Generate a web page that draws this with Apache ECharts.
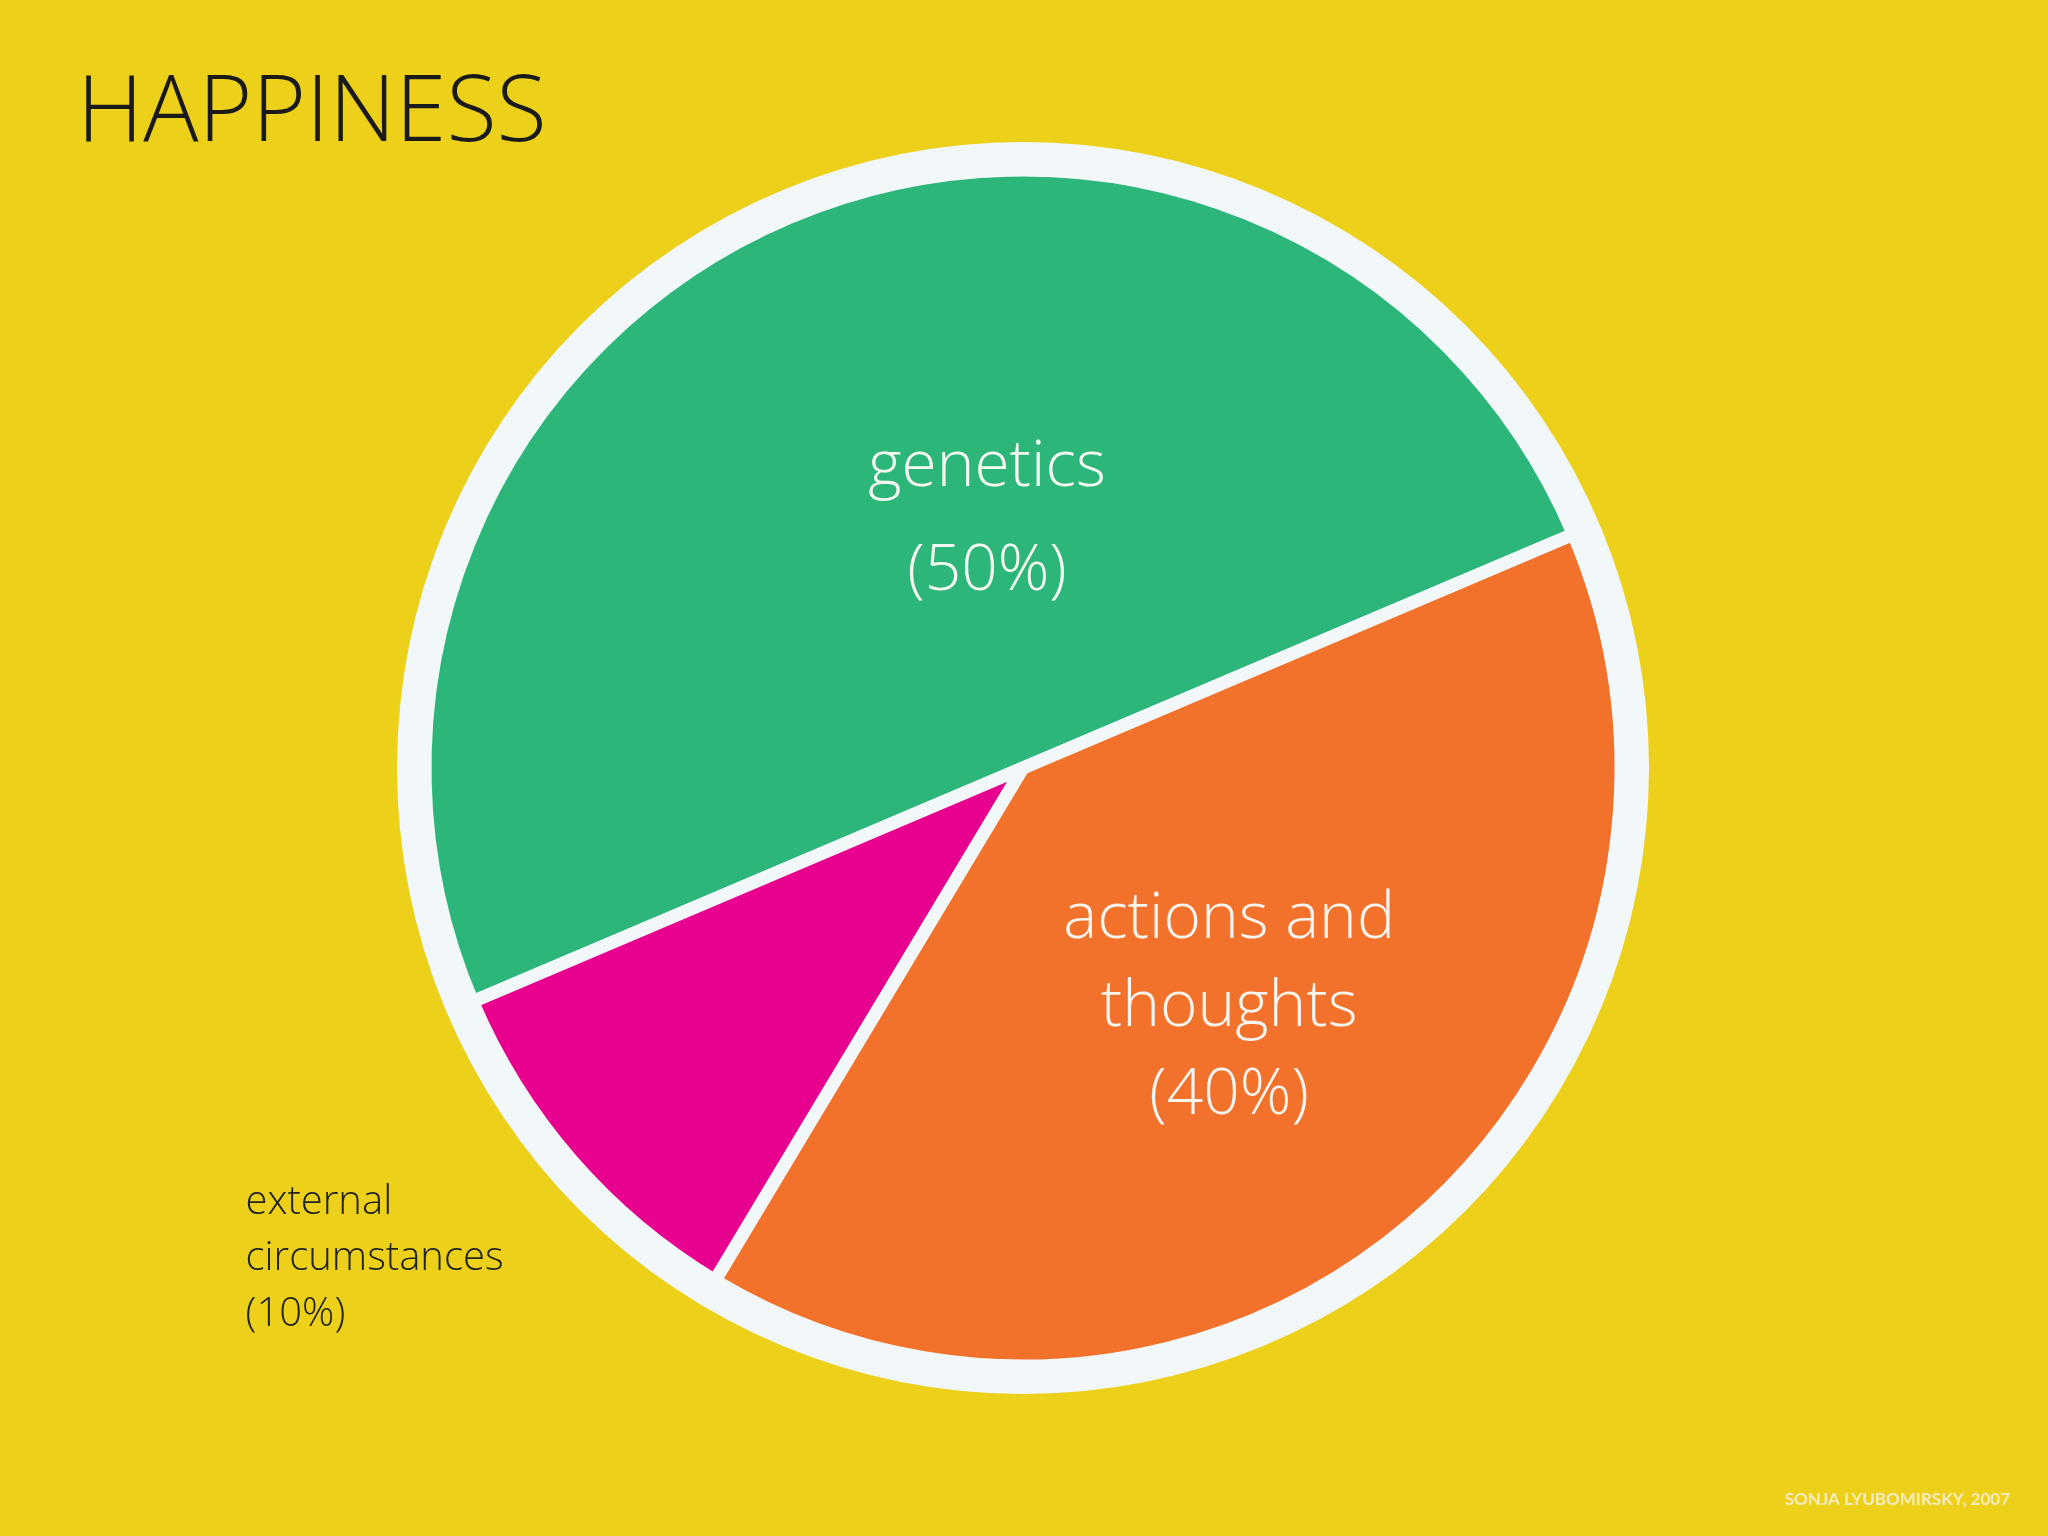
<!DOCTYPE html>
<html>
<head>
<meta charset="utf-8">
<script src="https://cdn.jsdelivr.net/npm/echarts@6/dist/echarts.min.js"></script>
<style>
  html, body { margin: 0; padding: 0; background: #ecd01a; }
  #chart { width: 2048px; height: 1536px; }
</style>
</head>
<body>
<div id="chart"></div>
<script>
// slices, counter-clockwise from the green/orange boundary
const names = ['genetics', 'external\ncircumstances', 'actions and\nthoughts'];
const values = [50, 10, 40];
const colors = ['#2db67a', '#e8008f', '#f2722c'];

const chart = echarts.init(document.getElementById('chart'));

//每块标签样式
const labelStyles = [
  {offset: [82, 30], fontSize: 64, color: '#f4f8f0', lineHeight: 104, letterSpacing: 7},
  {offset: [-377, 292], fontSize: 40, color: '#222', lineHeight: 56, letterSpacing: 3, width: 345},
  {offset: [8, 12], fontSize: 64, color: '#f8f4ee', lineHeight: 88, letterSpacing: 7}
];

const option = {
  backgroundColor: '#ecd01a',
  title: {
    text: 'HAPPINESS',
    left: 72,
    top: 64,
    textStyle: {fontFamily: 'Open Sans', fontWeight: 300, fontSize: 92, color: '#1a1a1a', letterSpacing: 6}
  },
  graphic: [{
    type: 'text',
    right: 38,
    bottom: 28,
    style: {text: 'SONJA LYUBOMIRSKY, 2007', fontFamily: 'Lato', fontWeight: 'bold', fontSize: 17, fill: '#f6ecc0'}
  }],
  series: [
    {
      type: 'pie',
      silent: true,
      center: [1023, 768],
      radius: [0, 626],
      label: {show: false},
      itemStyle: {color: '#f2f8fa'},
      data: [{value: 1, name: 'ring'}],
      animation: false
    },
    {
      type: 'pie',
      center: [1023, 768],
      radius: [0, 598],
      startAngle: 23,
      clockwise: false,
      animation: false,
      itemStyle: {borderColor: '#f2f8fa', borderWidth: 13},
      labelLine: {show: false},
      data: names.map((n, i) => {
        const s = labelStyles[i];
        const lines = (n + '\n(' + values[i] + '%)').split('\n');
        return {
          name: n,
          value: values[i],
          itemStyle: {color: colors[i]},
          label: {
            show: true,
            position: 'inside',
            offset: s.offset,
            formatter: lines.map(l => '{a|' + l + '}').join('\n'),
            rich: {
              a: {
                fontFamily: 'Open Sans',
                fontWeight: 300,
                fontSize: s.fontSize,
                color: s.color,
                lineHeight: s.lineHeight,
                letterSpacing: s.letterSpacing,
                width: s.width,
                align: s.width ? 'left' : 'center'
              }
            }
          }
        };
      })
    }
  ]
};
chart.setOption(option);
</script>
</body>
</html>
